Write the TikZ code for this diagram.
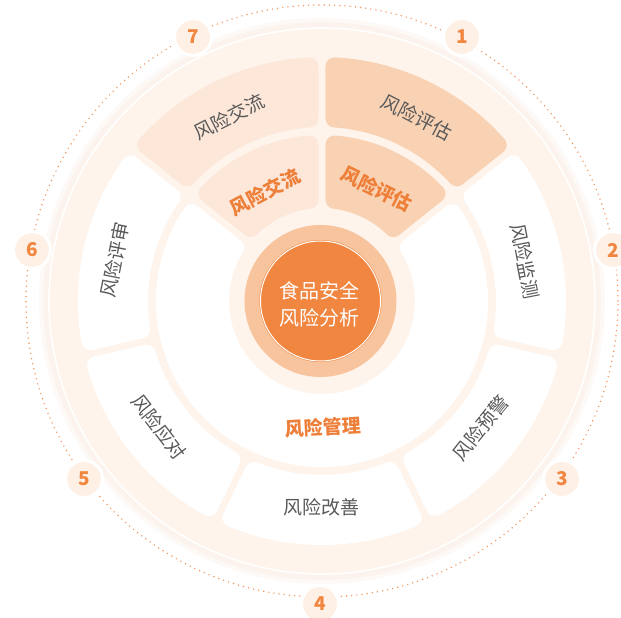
\documentclass[tikz,border=0pt]{standalone}
\usepackage{fontspec}
\setmainfont{Noto Sans CJK SC}
\definecolor{pale}{HTML}{FEF4EC}
\definecolor{peach}{HTML}{F9D2B4}
\definecolor{peachlt}{HTML}{FCE7D9}
\definecolor{orng}{HTML}{F08640}
\definecolor{ltorng}{HTML}{F8C49D}
\definecolor{txtor}{HTML}{EE7F39}
\definecolor{txtgray}{HTML}{595959}
\definecolor{badgec}{HTML}{FEF0E5}
\definecolor{dotc}{HTML}{F39660}
\definecolor{glow}{HTML}{FCEEE8}
\def\rc{9}
\def\gp{3.5}
\newcommand{\ringsec}[5]{%
  \pgfmathsetmacro{\rsRi}{#3+\rc}%
  \pgfmathsetmacro{\rsRo}{#4-\rc}%
  \pgfmathsetmacro{\rsDi}{asin((\gp+\rc)/\rsRi)}%
  \pgfmathsetmacro{\rsDo}{asin((\gp+\rc)/\rsRo)}%
  \pgfmathsetmacro{\rsA}{#1+\rsDi}%
  \pgfmathsetmacro{\rsB}{#1+\rsDo}%
  \pgfmathsetmacro{\rsC}{#2-\rsDo}%
  \pgfmathsetmacro{\rsD}{#2-\rsDi}%
  \filldraw[fill=#5, draw=#5, line width=18pt, line join=round]
    (\rsA:\rsRi pt) -- (\rsB:\rsRo pt) arc[start angle=\rsB, end angle=\rsC, radius=\rsRo pt]
    -- (\rsD:\rsRi pt) arc[start angle=\rsD, end angle=\rsA, radius=\rsRi pt] -- cycle;
}
\tikzset{
  outlbl/.style={font=\fontsize{19}{19}\selectfont, text=txtgray, inner sep=0pt},
  inlbl/.style={font=\bfseries\fontsize{19}{19}\selectfont, text=txtor, inner sep=0pt},
  badgenum/.style={circle, fill=badgec, draw=white, line width=3pt, minimum size=37pt, inner sep=0pt,
    font=\bfseries\fontsize{19}{19}\selectfont, text=orng},
}
\begin{document}
\begin{tikzpicture}
\useasboundingbox (-322pt,-317pt) rectangle (299pt,301pt);
\fill[white] (-322pt,-317pt) rectangle (299pt,301pt);
% glow
\fill[glow, opacity=0.35] (0,0) circle (283pt);
\fill[glow, opacity=0.5] (0,0) circle (279pt);
% dotted circle
\draw[dotc, line width=1.6pt, line cap=round, dash pattern=on 0pt off 5.2pt] (0,0) circle (296pt);
% pale disc
\fill[pale] (0,0) circle (274pt);
\draw[white, line width=1.5pt] (0,0) circle (273pt);
% outer sectors
\ringsec{38.571}{90}{174}{244}{peach}
\ringsec{-12.857}{38.571}{174}{244}{white}
\ringsec{-64.286}{-12.857}{174}{244}{white}
\ringsec{-115.714}{-64.286}{174}{244}{white}
\ringsec{-167.143}{-115.714}{174}{244}{white}
\ringsec{-218.571}{-167.143}{174}{244}{white}
\ringsec{90}{141.429}{174}{244}{peachlt}
% inner sectors
\ringsec{38.571}{90}{93}{166}{peach}
\ringsec{90}{141.429}{93}{166}{peachlt}
\ringsec{-218.571}{38.571}{93}{166}{white}
% center
\fill[ltorng] (-1.5pt,0pt) circle (76pt);
\fill[orng] (-1.5pt,0pt) circle (61pt);
\draw[white, line width=1pt] (-1.5pt,0pt) circle (60pt);
\node[font=\fontsize{20}{27}\selectfont, text=white, align=center, inner sep=0pt] (core) at (-2pt,-3.5pt) {食品安全\\风险分析};
% outer labels
\node[outlbl, rotate=-27.3] (o1) at (95pt,184pt) {风险评估};
\node[outlbl, rotate=-78.9] (o2) at (203pt,40pt) {风险监测};
\node[outlbl, rotate=51.4] (o3) at (159pt,-127pt) {风险预警};
\node[outlbl] (o4) at (0pt,-206pt) {风险改善};
\node[outlbl, rotate=-52.3] (o5) at (-163pt,-126pt) {风险应对};
\node[outlbl, rotate=78.8] (o6) at (-207pt,41pt) {风险评审};
\node[outlbl, rotate=26.8] (o7) at (-93pt,184pt) {风险交流};
% inner labels
\node[inlbl, rotate=27.6] (i7) at (-57pt,109pt) {风险交流};
\node[inlbl, rotate=-26.2] (i1) at (55pt,112pt) {风险评估};
\node[inlbl, rotate=3] (im) at (1pt,-126pt) {风险管理};
% badges
\node[badgenum] (b1) at (140pt,264pt) {1};
\node[badgenum] (b2) at (291pt,51pt) {2};
\node[badgenum] (b3) at (240pt,-178pt) {3};
\node[badgenum] (b4) at (-2pt,-303pt) {4};
\node[badgenum] (b5) at (-238pt,-178pt) {5};
\node[badgenum] (b6) at (-290pt,51pt) {6};
\node[badgenum] (b7) at (-129pt,264pt) {7};
\end{tikzpicture}
\end{document}
